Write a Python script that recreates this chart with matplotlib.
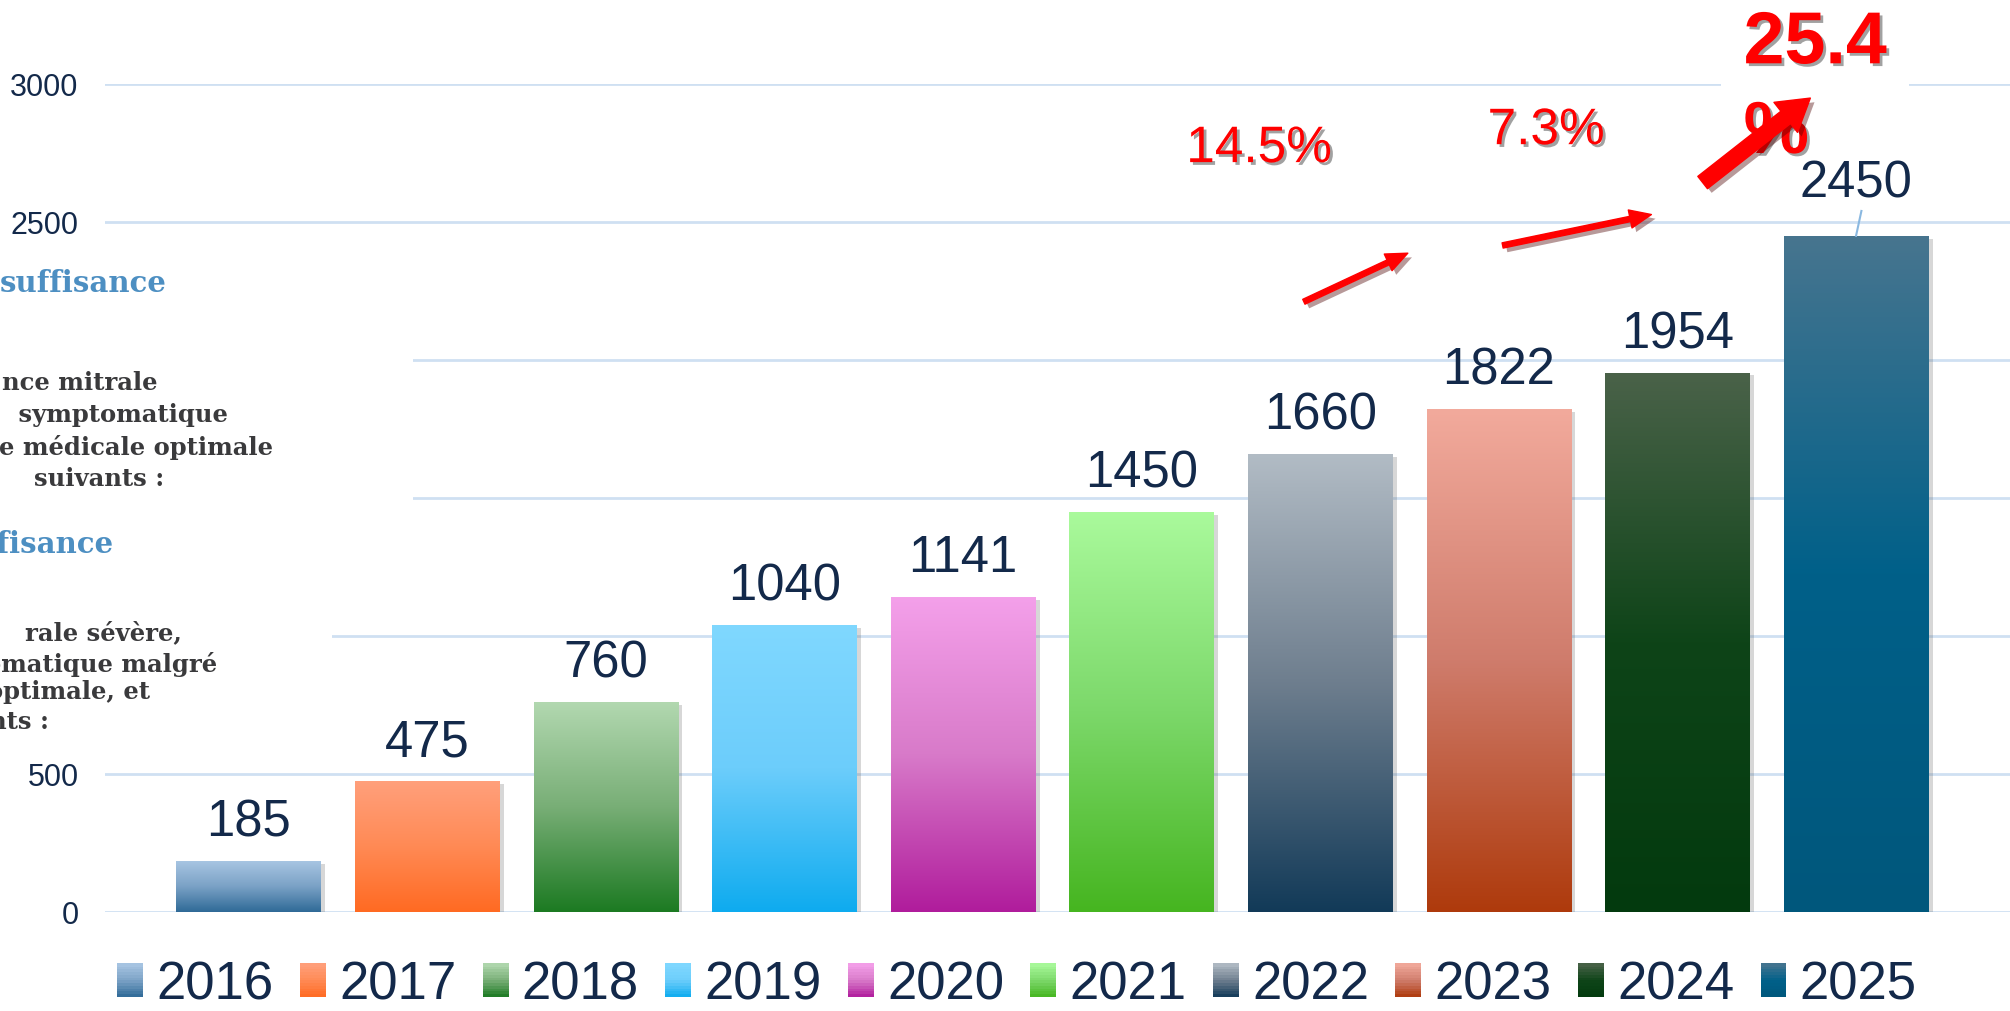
import numpy as np
import matplotlib
matplotlib.use('Agg')
import matplotlib.pyplot as plt
import matplotlib.patheffects as pe
from matplotlib.colors import LinearSegmentedColormap
from matplotlib.patches import Rectangle
from matplotlib.legend_handler import HandlerBase

plt.rcParams['font.family'] = ['Liberation Sans', 'DejaVu Sans']

# ---- data ----
years = ['2016', '2017', '2018', '2019', '2020', '2021', '2022', '2023', '2024', '2025']
values = [185, 475, 760, 1040, 1141, 1450, 1660, 1822, 1954, 2450]

# gradient colours of each bar (top, middle, bottom)
top_colors = ['#a9c6e3', '#ffa07c', '#b2d8b0', '#80d8ff', '#f4a0ea',
              '#aafa9c', '#b2bcc5', '#f2aa9c', '#4a6249', '#47758f']
mid_colors = ['#7ba2c6', '#ff8a55', '#78ae76', '#6ccdfb', '#d87ac9',
              '#7cd86a', '#6e7e8e', '#cf7c6c', '#0e4418', '#006089']
bot_colors = ['#2f6a97', '#ff6a22', '#1c7a22', '#0eabef', '#b01c9c',
              '#46b520', '#123a58', '#ae3a0c', '#033a0e', '#00577c']

growth_labels = ['14.5%', '7.3%', '25.4\n%']

navy = '#13294a'
red = '#ff0000'
grid_blue = '#cfe0f2'

fig = plt.figure(figsize=(20.1, 10.12), dpi=100)
ax = fig.add_axes([105 / 2010, 99 / 1012, 1 - 105 / 2010, 828 / 1012])

x = np.arange(len(values))
bars = ax.bar(x, values, width=0.81, color='white', zorder=2,
              path_effects=[pe.SimplePatchShadow(offset=(3, -2), alpha=0.22), pe.Normal()])

cmaps = []
grad = np.linspace(0, 1, 256).reshape(-1, 1)
for b, c_top, c_mid, c_bot in zip(bars, top_colors, mid_colors, bot_colors):
    cm = LinearSegmentedColormap.from_list('g', [c_bot, c_mid, c_top])
    cmaps.append(cm)
    x0 = b.get_x()
    im = ax.imshow(grad, cmap=cm, origin='lower', aspect='auto', zorder=3,
                   extent=[x0, x0 + b.get_width(), 0, b.get_height()])
    im.set_clip_path(b)

ax.set_xlim(-0.805, 9.862)
ax.set_ylim(0, 3000)
ax.set_yticks(np.arange(0, 3001, 500))
ax.set_xticks([])
ax.yaxis.grid(True, color=grid_blue, lw=2)
ax.set_axisbelow(True)
for s in ax.spines.values():
    s.set_visible(False)
ax.tick_params(axis='y', length=0, pad=19, labelsize=22, labelcolor=navy)

# value labels
for i, v in enumerate(values):
    off = 28 if i == len(values) - 1 else 18.5
    ax.annotate(str(v), (x[i], v), xytext=(0, off), textcoords='offset points',
                ha='center', va='baseline', fontsize=36.5, color=navy, zorder=5)
# leader line for the last label
ax.plot([x[-1] + 0.03, x[-1]], [values[-1] + 90, values[-1]], color='#8ab8e0', lw=1.5, zorder=4)

# growth annotations
shadow_txt = [pe.SimplePatchShadow(offset=(2, -2), shadow_rgbFace='#555555', alpha=0.55), pe.Normal()]
ax.text(5.657, 2717, growth_labels[0], ha='center', va='baseline', fontsize=37,
        color=red, path_effects=shadow_txt, zorder=6)
ax.text(7.265, 2782, growth_labels[1], ha='center', va='baseline', fontsize=37,
        color=red, path_effects=shadow_txt, zorder=6,
        bbox=dict(boxstyle='square,pad=0.3', fc='white', ec='none'))
big_top, big_bottom = growth_labels[2].split('\n')
ax.text(8.37, 3075, big_top, ha='left', va='baseline', fontsize=53,
        fontweight='bold', color=red, path_effects=shadow_txt, zorder=6,
        bbox=dict(boxstyle='square,pad=0.3', fc='white', ec='none'))
ax.text(8.37, 2750, big_bottom, ha='left', va='baseline', fontsize=53,
        fontweight='bold', color=red, path_effects=shadow_txt, zorder=6)

shadow_arr = [pe.SimplePatchShadow(offset=(3, -3), alpha=0.4), pe.Normal()]
thin = dict(arrowstyle='simple,head_length=1.3,head_width=1.1,tail_width=0.32',
            mutation_scale=12, color=red, shrinkA=0, shrinkB=0, path_effects=shadow_arr)
thick = dict(arrowstyle='simple,head_length=0.9,head_width=1.1,tail_width=0.45',
             mutation_scale=25, color=red, shrinkA=0, shrinkB=0, path_effects=shadow_arr)
ax.annotate('', xy=(6.49, 2387), xytext=(5.908, 2211), arrowprops=thin, zorder=6)
ax.annotate('', xy=(7.854, 2527), xytext=(7.021, 2415), arrowprops=thin, zorder=6)
ax.annotate('', xy=(8.744, 2949), xytext=(8.141, 2643), arrowprops=thick, zorder=7)


# legend with gradient keys
class GradKey:
    def __init__(self, cmap):
        self.cmap = cmap


class GradHandler(HandlerBase):
    def create_artists(self, legend, orig_handle, xdescent, ydescent, width, height, fontsize, trans):
        n = 12
        arts = []
        for k in range(n):
            r = Rectangle((-xdescent, -ydescent + k * height / n), width, height / n + 0.3,
                          facecolor=orig_handle.cmap((k + 0.5) / n), lw=0, transform=trans)
            arts.append(r)
        return arts


fig.legend([GradKey(c) for c in cmaps], years, handler_map={GradKey: GradHandler()},
           loc='center', bbox_to_anchor=(0.506, 0.0257), ncol=10, frameon=False,
           fontsize=38, labelcolor=navy, handlelength=0.49, handleheight=0.59,
           handletextpad=0.25, columnspacing=0.5, borderpad=0, borderaxespad=0)

# background slide peeking through on the left
S = 1.282
W, H = 2010, 1012
fig.add_artist(Rectangle((0, 1 - 450 * S / H), 322 * S / W, 260 * S / H, transform=fig.transFigure,
                         facecolor='white', edgecolor='none', zorder=1))
fig.add_artist(Rectangle((0, 1 - 592 * S / H), 259 * S / W, 143 * S / H, transform=fig.transFigure,
                         facecolor='white', edgecolor='none', zorder=1))

slide_lines = [('suffisance', 130, 221, 'blue'),
               ('nce mitrale', 123, 299, 'gray'),
               (' symptomatique', 178, 324, 'gray'),
               ('e médicale optimale', 213, 349, 'gray'),
               ('suivants :', 128, 374, 'gray'),
               ('ffisance', 88, 425, 'blue'),
               ('rale sévère,', 142, 494, 'gray'),
               ('omatique malgré', 169, 518, 'gray'),
               ('optimale, et', 117, 540, 'gray'),
               ('nts :', 38, 563, 'gray')]
for txt, xr, yc, kind in slide_lines:
    if kind == 'blue':
        fig.text(xr * S / W, 1 - yc * S / H, txt, ha='right', va='center', fontsize=21,
                 fontweight='bold', family='DejaVu Serif', color='#4d8fc2', zorder=3)
    else:
        fig.text(xr * S / W, 1 - yc * S / H, txt, ha='right', va='center', fontsize=17.5,
                 fontweight='bold', family='DejaVu Serif', color='#3a3a3c', zorder=3)

fig.savefig('out.png', dpi=100)
